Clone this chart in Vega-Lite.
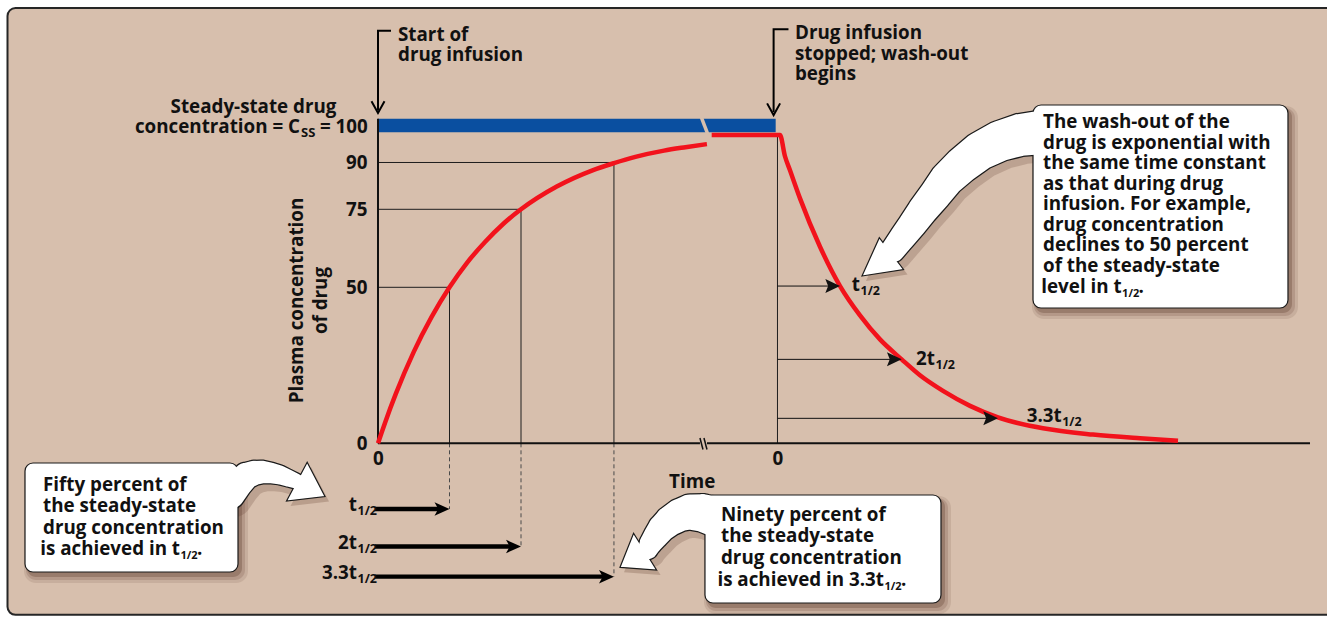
{
  "$schema": "https://vega.github.io/schema/vega-lite/v6.json",
  "width": 1327,
  "height": 618,
  "autosize": "none",
  "padding": 0,
  "background": "#ffffff",
  "config": {
    "view": {"stroke": null},
    "text": {"font": "Open Sans", "fontWeight": "bold", "fontSize": 18.8, "color": "#111111"}
  },
  "resolve": {"scale": {"size": "independent"}},
  "datasets": {
    "decor": [
      {"id": "bg", "t": -5.1818, "t2": 13.524, "c": 139.5, "c2": -54.97},
      {"id": "blue", "t": 0, "t2": 5.562, "c": 104.0, "c2": 99.7},
      {"id": "gap", "t": 4.524, "t2": 4.608, "c": 104.4, "c2": 99.3}
    ],
    "curve": [
      {"seg": "rise", "t": 0, "c": 0},
      {"seg": "rise", "t": 0.05, "c": 3.4},
      {"seg": "rise", "t": 0.1, "c": 6.7},
      {"seg": "rise", "t": 0.25, "c": 15.9},
      {"seg": "rise", "t": 0.5, "c": 29.3},
      {"seg": "rise", "t": 0.75, "c": 40.5},
      {"seg": "rise", "t": 1, "c": 50},
      {"seg": "rise", "t": 1.25, "c": 58},
      {"seg": "rise", "t": 1.5, "c": 64.6},
      {"seg": "rise", "t": 1.75, "c": 70.3},
      {"seg": "rise", "t": 2, "c": 75},
      {"seg": "rise", "t": 2.5, "c": 82.3},
      {"seg": "rise", "t": 3, "c": 87.5},
      {"seg": "rise", "t": 3.3, "c": 89.8},
      {"seg": "rise", "t": 3.6, "c": 91.8},
      {"seg": "rise", "t": 4, "c": 93.8},
      {"seg": "rise", "t": 4.3, "c": 94.9},
      {"seg": "rise", "t": 4.6, "c": 95.9},
      {"seg": "wash", "t": 4.667, "c": 98.8},
      {"seg": "wash", "t": 5.622, "c": 98.8},
      {"seg": "wash", "t": 5.692, "c": 92},
      {"seg": "wash", "t": 5.762, "c": 87.5},
      {"seg": "wash", "t": 5.902, "c": 78.5},
      {"seg": "wash", "t": 6.182, "c": 63},
      {"seg": "wash", "t": 6.462, "c": 50.4},
      {"seg": "wash", "t": 6.741, "c": 41},
      {"seg": "wash", "t": 7.021, "c": 33.3},
      {"seg": "wash", "t": 7.324, "c": 26.9},
      {"seg": "wash", "t": 7.58, "c": 21.8},
      {"seg": "wash", "t": 7.902, "c": 16.8},
      {"seg": "wash", "t": 8.28, "c": 12.0},
      {"seg": "wash", "t": 8.671, "c": 8.3},
      {"seg": "wash", "t": 9.301, "c": 4.8},
      {"seg": "wash", "t": 10.0, "c": 2.8},
      {"seg": "wash", "t": 10.657, "c": 1.6},
      {"seg": "wash", "t": 11.189, "c": 0.8}
    ],
    "guides": [
      {"t": 0, "c": 50, "t2": 1, "c2": 50},
      {"t": 0, "c": 75, "t2": 2, "c2": 75},
      {"t": 0, "c": 90, "t2": 3.3, "c2": 90},
      {"t": 1, "c": 0, "t2": 1, "c2": 50},
      {"t": 2, "c": 0, "t2": 2, "c2": 75},
      {"t": 3.3, "c": 0, "t2": 3.3, "c2": 90},
      {"t": 5.587, "c": 0, "t2": 5.587, "c2": 98.8}
    ],
    "dashes": [
      {"t": 1, "c": 0, "t2": 1, "c2": -21.06},
      {"t": 2, "c": 0, "t2": 2, "c2": -33.08},
      {"t": 3.3, "c": 0, "t2": 3.3, "c2": -42.76}
    ],
    "axislines": [
      {"t": 0, "c": 0, "t2": 0, "c2": 104.0},
      {"t": 0, "c": 0, "t2": 4.503, "c2": 0},
      {"t": 4.601, "c": 0, "t2": 13.035, "c2": 0}
    ],
    "slashes": [
      {"t": 4.503, "c": 1.7, "t2": 4.545, "c2": -1.99},
      {"t": 4.559, "c": 1.7, "t2": 4.601, "c2": -1.99}
    ],
    "washarrows": [
      {"t": 5.587, "c": 50.4, "t2": 6.462},
      {"t": 5.587, "c": 26.9, "t2": 7.324},
      {"t": 5.587, "c": 8.0, "t2": 8.671}
    ],
    "bottomarrows": [
      {"t": -0.042, "c": -21.06, "tip": 1},
      {"t": -0.042, "c": -33.08, "tip": 2},
      {"t": -0.042, "c": -42.76, "tip": 3.3}
    ],
    "brackets": [
      {"id": "start", "o": 1, "t": 0.168, "c": 132.25},
      {"id": "start", "o": 2, "t": 0, "c": 132.25},
      {"id": "start", "o": 3, "t": 0, "c": 107},
      {"id": "stop", "o": 1, "t": 5.727, "c": 132.7},
      {"id": "stop", "o": 2, "t": 5.533, "c": 132.7},
      {"id": "stop", "o": 3, "t": 5.533, "c": 106.5}
    ],
    "bracketheads": [
      {"t": 0, "c": 105.87},
      {"t": 5.533, "c": 105.2}
    ],
    "boxes": [
      {"id": "w", "t": 9.161, "t2": 12.727, "c": 108.43, "c2": 43.37},
      {"id": "f", "t": -4.937, "t2": -1.958, "c": -6.31, "c2": -41.25},
      {"id": "n", "t": 4.573, "t2": 7.874, "c": -16.57, "c2": -51.19}
    ],
    "heads": [
      {"id": "w", "t": 6.769, "c": 53.62},
      {"id": "f", "t": -0.741, "c": -17.08},
      {"id": "n", "t": 3.385, "c": -39.74}
    ],
    "tails": [
      {"id": "w", "o": 1, "t": 9.329, "c": 99.78},
      {"id": "w", "o": 2, "t": 8.979, "c": 98.81},
      {"id": "w", "o": 3, "t": 8.699, "c": 96.89},
      {"id": "w", "o": 4, "t": 8.42, "c": 93.69},
      {"id": "w", "o": 5, "t": 8.168, "c": 89.2},
      {"id": "w", "o": 6, "t": 7.958, "c": 84.71},
      {"id": "w", "o": 7, "t": 7.79, "c": 79.58},
      {"id": "w", "o": 8, "t": 7.622, "c": 74.78},
      {"id": "w", "o": 9, "t": 7.469, "c": 69.97},
      {"id": "w", "o": 10, "t": 7.329, "c": 65.8},
      {"id": "w", "o": 11, "t": 7.203, "c": 61.96},
      {"id": "f", "o": 1, "t": -2.07, "c": -16.25},
      {"id": "f", "o": 2, "t": -1.958, "c": -13.04},
      {"id": "f", "o": 3, "t": -1.846, "c": -10.48},
      {"id": "f", "o": 4, "t": -1.734, "c": -9.52},
      {"id": "f", "o": 5, "t": -1.622, "c": -9.2},
      {"id": "f", "o": 6, "t": -1.497, "c": -9.52},
      {"id": "f", "o": 7, "t": -1.371, "c": -10.16},
      {"id": "f", "o": 8, "t": -1.259, "c": -11.12},
      {"id": "f", "o": 9, "t": -1.147, "c": -12.08},
      {"id": "n", "o": 1, "t": 4.727, "c": -23.62},
      {"id": "n", "o": 2, "t": 4.545, "c": -22.34},
      {"id": "n", "o": 3, "t": 4.364, "c": -22.02},
      {"id": "n", "o": 4, "t": 4.224, "c": -22.98},
      {"id": "n", "o": 5, "t": 4.084, "c": -24.9},
      {"id": "n", "o": 6, "t": 3.972, "c": -27.15},
      {"id": "n", "o": 7, "t": 3.888, "c": -29.71},
      {"id": "n", "o": 8, "t": 3.818, "c": -31.96},
      {"id": "n", "o": 9, "t": 3.776, "c": -33.88}
    ],
    "txt": [
      {"kind": "ml1", "t": 0.28, "c": 129.0, "text": "Start of\ndrug infusion"},
      {"kind": "ml1", "t": 5.832, "c": 129.5, "text": "Drug infusion\nstopped; wash-out\nbegins"},
      {"kind": "ml1", "t": 9.301, "c": 100.96, "text": "The wash-out of the\ndrug is exponential with\nthe same time constant\nas that during drug\ninfusion. For example,\ndrug concentration\ndeclines to 50 percent\nof the steady-state"},
      {"kind": "ml2", "t": -4.685, "c": -15.26, "text": "Fifty percent of\nthe steady-state\ndrug concentration"},
      {"kind": "ml2", "t": 4.797, "c": -24.81, "text": "Ninety percent of\nthe steady-state\ndrug concentration"},
      {"kind": "main", "t": 10.4, "c": 48.08, "text": "level in t"},
      {"kind": "main", "t": -2.769, "c": -35.8, "text": "is achieved in t"},
      {"kind": "main", "t": 7.077, "c": -45.64, "text": "is achieved in 3.3t"},
      {"kind": "main", "t": -0.294, "c": -21.7, "text": "t"},
      {"kind": "main", "t": -0.294, "c": -33.72, "text": "2t"},
      {"kind": "main", "t": -0.294, "c": -43.4, "text": "3.3t"},
      {"kind": "main", "t": 6.741, "c": 48.8, "text": "t"},
      {"kind": "main", "t": 7.79, "c": 25.1, "text": "2t"},
      {"kind": "main", "t": 9.562, "c": 6.9, "text": "3.3t"},
      {"kind": "main", "t": -1.091, "c": 99.36, "text": "concentration = C"},
      {"kind": "sub", "t": -0.294, "c": -21.7, "text": "1/2"},
      {"kind": "sub", "t": -0.294, "c": -33.72, "text": "1/2"},
      {"kind": "sub", "t": -0.294, "c": -43.4, "text": "1/2"},
      {"kind": "sub", "t": 6.741, "c": 48.8, "text": "1/2"},
      {"kind": "sub", "t": 7.79, "c": 25.1, "text": "1/2"},
      {"kind": "sub", "t": 9.562, "c": 6.9, "text": "1/2"},
      {"kind": "subbox", "t": 10.4, "c": 48.08, "text": "1/2"},
      {"kind": "subbox", "t": -2.769, "c": -35.8, "text": "1/2"},
      {"kind": "subbox", "t": 7.077, "c": -45.64, "text": "1/2"},
      {"kind": "dot", "t": 10.4, "c": 48.08, "text": "."},
      {"kind": "dot", "t": -2.769, "c": -35.8, "text": "."},
      {"kind": "dot", "t": 7.077, "c": -45.64, "text": "."},
      {"kind": "ss", "t": -1.091, "c": 99.36, "text": "SS"},
      {"kind": "eq", "t": -1.091, "c": 99.36, "text": "= 100"},
      {"kind": "center", "t": -1.741, "c": 105.77, "text": "Steady-state drug"}
    ]
  },
  "encoding": {
    "x": {
      "field": "t", "type": "quantitative",
      "scale": {"domain": [-5.2867, 13.2727], "nice": false, "zero": false},
      "axis": {
        "values": [0, 5.587], "labelExpr": "'0'", "domain": false, "ticks": false, "tickSize": 0, "grid": false,
        "offset": -174.7, "labelPadding": 6, "labelFont": "Open Sans", "labelFontWeight": "bold", "labelFontSize": 18.8,
        "labelColor": "#111111", "labelFlush": false, "labelOverlap": false, "zindex": 1,
        "title": "Time", "titleFont": "Open Sans", "titleFontWeight": "bold", "titleFontSize": 18.8, "titleColor": "#111111",
        "titleX": 691.7, "titleY": 38.4, "titleAlign": "center", "titleBaseline": "middle"
      }
    },
    "y": {
      "field": "c", "type": "quantitative",
      "scale": {"domain": [-55.994, 142.083], "nice": false, "zero": false},
      "axis": {
        "values": [0, 50, 75, 90], "domain": false, "ticks": false, "tickSize": 0, "grid": false,
        "offset": -378, "labelPadding": 11, "labelFont": "Open Sans", "labelFontWeight": "bold", "labelFontSize": 18.8,
        "labelColor": "#111111", "labelOverlap": false, "labelFlush": false, "zindex": 1,
        "title": ["Plasma concentration", "of drug"], "titleFont": "Open Sans", "titleFontWeight": "bold", "titleFontSize": 18.8,
        "titleColor": "#111111", "titleX": -81.5, "titleY": 300, "titleAngle": -90, "titleAlign": "center",
        "titleBaseline": "middle", "titleLineHeight": 23.5
      }
    }
  },
  "layer": [
    {
      "data": {"name": "decor"},
      "transform": [{"filter": "datum.id == 'bg'"}],
      "mark": {"type": "rect", "fill": "#d7bfad", "stroke": "#262626", "strokeWidth": 2, "cornerRadius": 8},
      "encoding": {"x2": {"field": "t2"}, "y2": {"field": "c2"}}
    },
    {
      "data": {"name": "guides"},
      "mark": {"type": "rule", "color": "#1e1e1e", "strokeWidth": 1},
      "encoding": {"x2": {"field": "t2"}, "y2": {"field": "c2"}}
    },
    {
      "data": {"name": "dashes"},
      "mark": {"type": "rule", "color": "#4a4a4a", "strokeWidth": 1, "strokeDash": [4, 3]},
      "encoding": {"x2": {"field": "t2"}, "y2": {"field": "c2"}}
    },
    {
      "data": {"name": "decor"},
      "transform": [{"filter": "datum.id == 'blue'"}],
      "mark": {"type": "rect", "fill": "#0a4fa0"},
      "encoding": {"x2": {"field": "t2"}, "y2": {"field": "c2"}}
    },
    {
      "data": {"name": "decor"},
      "transform": [{"filter": "datum.id == 'gap'"}],
      "mark": {"type": "rule", "color": "#d7bfad", "strokeWidth": 3.5},
      "encoding": {"x2": {"field": "t2"}, "y2": {"field": "c2"}}
    },
    {
      "data": {"name": "axislines"},
      "mark": {"type": "rule", "color": "#111111", "strokeWidth": 2},
      "encoding": {"x2": {"field": "t2"}, "y2": {"field": "c2"}}
    },
    {
      "data": {"name": "slashes"},
      "mark": {"type": "rule", "color": "#111111", "strokeWidth": 1.5},
      "encoding": {"x2": {"field": "t2"}, "y2": {"field": "c2"}}
    },
    {
      "data": {"name": "curve"},
      "mark": {"type": "line", "color": "#f2121c", "strokeWidth": 4.5, "interpolate": "monotone", "strokeCap": "butt"},
      "encoding": {"detail": {"field": "seg"}}
    },
    {
      "data": {"name": "washarrows"},
      "mark": {"type": "rule", "color": "#111111", "strokeWidth": 1, "x2Offset": -4},
      "encoding": {"x2": {"field": "t2"}}
    },
    {
      "data": {"name": "washarrows"},
      "mark": {"type": "point", "shape": "M0,0L-2.1,-1L-1.7,0L-2.1,1Z", "size": 196, "filled": true, "color": "#111111", "opacity": 1, "strokeWidth": 0},
      "encoding": {"x": {"field": "t2", "type": "quantitative"}}
    },
    {
      "data": {"name": "bottomarrows"},
      "mark": {"type": "rule", "color": "#000000", "strokeWidth": 4.3, "x2Offset": -8},
      "encoding": {"x2": {"field": "tip"}}
    },
    {
      "data": {"name": "bottomarrows"},
      "mark": {"type": "point", "shape": "M0,0L-2,-0.9L-1.5,0L-2,0.9Z", "size": 225, "filled": true, "color": "#000000", "opacity": 1, "strokeWidth": 0},
      "encoding": {"x": {"field": "tip", "type": "quantitative"}}
    },
    {
      "data": {"name": "brackets"},
      "mark": {"type": "line", "color": "#000000", "strokeWidth": 2, "strokeCap": "square"},
      "encoding": {"detail": {"field": "id"}, "order": {"field": "o"}}
    },
    {
      "data": {"name": "bracketheads"},
      "mark": {"type": "point", "shape": "M-1.8,-1L0,0L-1.8,1", "size": 169, "filled": false, "stroke": "#000000", "strokeWidth": 2, "opacity": 1, "angle": 90}
    },
    {
      "data": {"name": "boxes"},
      "mark": {"type": "rect", "color": "#5e3a2c", "opacity": 0.12, "cornerRadius": 12, "xOffset": -1, "x2Offset": 10, "yOffset": 1, "y2Offset": 11},
      "encoding": {"x2": {"field": "t2"}, "y2": {"field": "c2"}}
    },
    {
      "data": {"name": "boxes"},
      "mark": {"type": "rect", "color": "#5e3a2c", "opacity": 0.18, "cornerRadius": 10, "xOffset": 1, "x2Offset": 7, "yOffset": 3, "y2Offset": 8},
      "encoding": {"x2": {"field": "t2"}, "y2": {"field": "c2"}}
    },
    {
      "data": {"name": "boxes"},
      "mark": {"type": "rect", "color": "#5e3a2c", "opacity": 0.3, "cornerRadius": 9, "xOffset": 2, "x2Offset": 4, "yOffset": 3, "y2Offset": 5},
      "encoding": {"x2": {"field": "t2"}, "y2": {"field": "c2"}}
    },
    {
      "data": {"name": "tails"},
      "transform": [{"filter": "datum.id == 'w'"}],
      "mark": {"type": "trail", "color": "#5e3a2c", "opacity": 0.22, "xOffset": 4, "yOffset": 5},
      "encoding": {"order": {"field": "o"}, "size": {"field": "o", "type": "quantitative", "scale": {"domain": [1, 11], "range": [50, 30]}, "legend": null}}
    },
    {
      "data": {"name": "tails"},
      "transform": [{"filter": "datum.id == 'f'"}],
      "mark": {"type": "trail", "color": "#5e3a2c", "opacity": 0.22, "xOffset": 4, "yOffset": 5},
      "encoding": {"order": {"field": "o"}, "size": {"field": "o", "type": "quantitative", "scale": {"domain": [1, 9], "range": [36, 21]}, "legend": null}}
    },
    {
      "data": {"name": "tails"},
      "transform": [{"filter": "datum.id == 'n'"}],
      "mark": {"type": "trail", "color": "#5e3a2c", "opacity": 0.22, "xOffset": 4, "yOffset": 5},
      "encoding": {"order": {"field": "o"}, "size": {"field": "o", "type": "quantitative", "scale": {"domain": [1, 9], "range": [46, 26]}, "legend": null}}
    },
    {
      "data": {"name": "heads"},
      "transform": [{"filter": "datum.id == 'w'"}],
      "mark": {"type": "point", "shape": "M0,0L-1.85,-1L-1.85,1Z", "size": 1600, "filled": true, "color": "#5e3a2c", "opacity": 0.25, "strokeWidth": 0, "angle": 142.7, "xOffset": 4, "yOffset": 5}
    },
    {
      "data": {"name": "heads"},
      "transform": [{"filter": "datum.id == 'f'"}],
      "mark": {"type": "point", "shape": "M0,0L-1.45,-1L-1.45,1Z", "size": 1936, "filled": true, "color": "#5e3a2c", "opacity": 0.25, "strokeWidth": 0, "angle": 28, "xOffset": 4, "yOffset": 5}
    },
    {
      "data": {"name": "heads"},
      "transform": [{"filter": "datum.id == 'n'"}],
      "mark": {"type": "point", "shape": "M0,0L-1.36,-1L-1.36,1Z", "size": 1884, "filled": true, "color": "#5e3a2c", "opacity": 0.25, "strokeWidth": 0, "angle": 148, "xOffset": 4, "yOffset": 5}
    },
    {
      "data": {"name": "tails"},
      "transform": [{"filter": "datum.id == 'w'"}],
      "mark": {"type": "trail", "color": "#1a1a1a"},
      "encoding": {"order": {"field": "o"}, "size": {"field": "o", "type": "quantitative", "scale": {"domain": [1, 11], "range": [46.5, 26.5]}, "legend": null}}
    },
    {
      "data": {"name": "tails"},
      "transform": [{"filter": "datum.id == 'f'"}],
      "mark": {"type": "trail", "color": "#1a1a1a"},
      "encoding": {"order": {"field": "o"}, "size": {"field": "o", "type": "quantitative", "scale": {"domain": [1, 9], "range": [32.5, 17.5]}, "legend": null}}
    },
    {
      "data": {"name": "tails"},
      "transform": [{"filter": "datum.id == 'n'"}],
      "mark": {"type": "trail", "color": "#1a1a1a"},
      "encoding": {"order": {"field": "o"}, "size": {"field": "o", "type": "quantitative", "scale": {"domain": [1, 9], "range": [42.5, 22.5]}, "legend": null}}
    },
    {
      "data": {"name": "heads"},
      "transform": [{"filter": "datum.id == 'w'"}],
      "mark": {"type": "point", "shape": "M0,0L-1.85,-1L-1.85,1Z", "size": 1600, "filled": true, "fill": "#ffffff", "stroke": "#1a1a1a", "strokeWidth": 1.2, "opacity": 1, "angle": 142.7}
    },
    {
      "data": {"name": "heads"},
      "transform": [{"filter": "datum.id == 'f'"}],
      "mark": {"type": "point", "shape": "M0,0L-1.45,-1L-1.45,1Z", "size": 1936, "filled": true, "fill": "#ffffff", "stroke": "#1a1a1a", "strokeWidth": 1.2, "opacity": 1, "angle": 28}
    },
    {
      "data": {"name": "heads"},
      "transform": [{"filter": "datum.id == 'n'"}],
      "mark": {"type": "point", "shape": "M0,0L-1.36,-1L-1.36,1Z", "size": 1884, "filled": true, "fill": "#ffffff", "stroke": "#1a1a1a", "strokeWidth": 1.2, "opacity": 1, "angle": 148}
    },
    {
      "data": {"name": "boxes"},
      "mark": {"type": "rect", "fill": "#ffffff", "stroke": "#1a1a1a", "strokeWidth": 1.2, "cornerRadius": 8},
      "encoding": {"x2": {"field": "t2"}, "y2": {"field": "c2"}}
    },
    {
      "data": {"name": "tails"},
      "transform": [{"filter": "datum.id == 'w'"}],
      "mark": {"type": "trail", "color": "#ffffff"},
      "encoding": {"order": {"field": "o"}, "size": {"field": "o", "type": "quantitative", "scale": {"domain": [1, 11], "range": [44, 24]}, "legend": null}}
    },
    {
      "data": {"name": "tails"},
      "transform": [{"filter": "datum.id == 'f'"}],
      "mark": {"type": "trail", "color": "#ffffff"},
      "encoding": {"order": {"field": "o"}, "size": {"field": "o", "type": "quantitative", "scale": {"domain": [1, 9], "range": [30, 15]}, "legend": null}}
    },
    {
      "data": {"name": "tails"},
      "transform": [{"filter": "datum.id == 'n'"}],
      "mark": {"type": "trail", "color": "#ffffff"},
      "encoding": {"order": {"field": "o"}, "size": {"field": "o", "type": "quantitative", "scale": {"domain": [1, 9], "range": [40, 20]}, "legend": null}}
    },
    {
      "data": {"name": "txt"},
      "transform": [{"filter": "datum.kind == 'ml1'"}],
      "mark": {"type": "text", "align": "left", "baseline": "alphabetic", "lineBreak": "\n", "lineHeight": 20.5},
      "encoding": {"text": {"field": "text"}}
    },
    {
      "data": {"name": "txt"},
      "transform": [{"filter": "datum.kind == 'ml2'"}],
      "mark": {"type": "text", "align": "left", "baseline": "alphabetic", "lineBreak": "\n", "lineHeight": 21.5},
      "encoding": {"text": {"field": "text"}}
    },
    {
      "data": {"name": "txt"},
      "transform": [{"filter": "datum.kind == 'main'"}],
      "mark": {"type": "text", "align": "right", "baseline": "alphabetic"},
      "encoding": {"text": {"field": "text"}}
    },
    {
      "data": {"name": "txt"},
      "transform": [{"filter": "datum.kind == 'sub'"}],
      "mark": {"type": "text", "align": "left", "baseline": "alphabetic", "fontSize": 12.5, "dy": 4, "dx": 0.5},
      "encoding": {"text": {"field": "text"}}
    },
    {
      "data": {"name": "txt"},
      "transform": [{"filter": "datum.kind == 'subbox'"}],
      "mark": {"type": "text", "align": "left", "baseline": "alphabetic", "fontSize": 11, "dy": 4, "dx": 0.5},
      "encoding": {"text": {"field": "text"}}
    },
    {
      "data": {"name": "txt"},
      "transform": [{"filter": "datum.kind == 'dot'"}],
      "mark": {"type": "text", "align": "left", "baseline": "alphabetic", "dx": 17},
      "encoding": {"text": {"field": "text"}}
    },
    {
      "data": {"name": "txt"},
      "transform": [{"filter": "datum.kind == 'ss'"}],
      "mark": {"type": "text", "align": "left", "baseline": "alphabetic", "fontSize": 13, "dx": 1, "dy": 4},
      "encoding": {"text": {"field": "text"}}
    },
    {
      "data": {"name": "txt"},
      "transform": [{"filter": "datum.kind == 'eq'"}],
      "mark": {"type": "text", "align": "left", "baseline": "alphabetic", "dx": 20},
      "encoding": {"text": {"field": "text"}}
    },
    {
      "data": {"name": "txt"},
      "transform": [{"filter": "datum.kind == 'center'"}],
      "mark": {"type": "text", "align": "center", "baseline": "alphabetic"},
      "encoding": {"text": {"field": "text"}}
    }
  ]
}
